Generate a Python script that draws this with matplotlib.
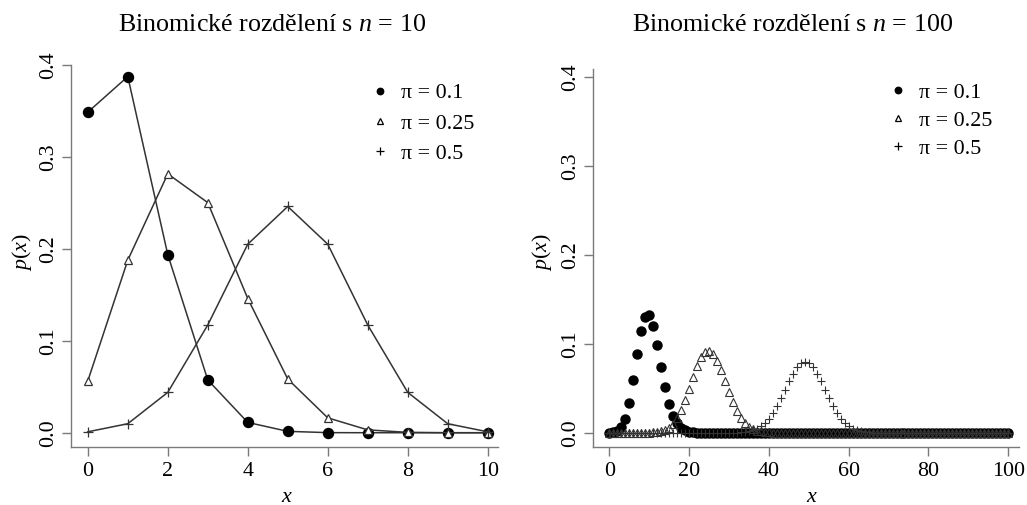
import numpy as np
import matplotlib
matplotlib.use("Agg")
import matplotlib.pyplot as plt
from matplotlib.lines import Line2D
from matplotlib.ticker import FormatStrFormatter

plt.rcParams['font.family'] = ['Liberation Serif', 'DejaVu Serif']
plt.rcParams['mathtext.fontset'] = 'custom'
plt.rcParams['mathtext.rm'] = 'Liberation Serif'
plt.rcParams['mathtext.it'] = 'Liberation Serif:italic'

# hodnoty
x10 = np.arange(0, 11)
p10_01 = [0.3487, 0.3874, 0.1937, 0.0574, 0.0112, 0.0015, 0.0001, 0.0, 0.0, 0.0, 0.0]
p10_025 = [0.0563, 0.1877, 0.2816, 0.2503, 0.1460, 0.0584, 0.0162, 0.0031, 0.0004, 0.0, 0.0]
p10_05 = [0.0010, 0.0098, 0.0439, 0.1172, 0.2051, 0.2461, 0.2051, 0.1172, 0.0439, 0.0098, 0.0010]

x100 = np.arange(0, 101)
p100_01 = [
    0.0000, 0.0003, 0.0016, 0.0059, 0.0159, 0.0339, 0.0596, 0.0889, 0.1148, 0.1304,
    0.1319, 0.1199, 0.0988, 0.0743, 0.0513, 0.0327, 0.0193, 0.0106, 0.0054, 0.0026,
    0.0012, 0.0005, 0.0002, 0.0001, 0, 0, 0, 0, 0, 0,
    0, 0, 0, 0, 0, 0, 0, 0, 0, 0,
    0, 0, 0, 0, 0, 0, 0, 0, 0, 0,
    0, 0, 0, 0, 0, 0, 0, 0, 0, 0,
    0, 0, 0, 0, 0, 0, 0, 0, 0, 0,
    0, 0, 0, 0, 0, 0, 0, 0, 0, 0,
    0, 0, 0, 0, 0, 0, 0, 0, 0, 0,
    0, 0, 0, 0, 0, 0, 0, 0, 0, 0,
    0,
]
p100_025 = [
    0, 0, 0, 0, 0, 0, 0, 0, 0, 0.0000,
    0.0001, 0.0003, 0.0006, 0.0014, 0.0030, 0.0057, 0.0100, 0.0165, 0.0254, 0.0365,
    0.0493, 0.0626, 0.0749, 0.0847, 0.0906, 0.0918, 0.0883, 0.0806, 0.0701, 0.0580,
    0.0458, 0.0344, 0.0248, 0.0170, 0.0112, 0.0070, 0.0042, 0.0024, 0.0014, 0.0007,
    0.0004, 0.0002, 0.0001, 0.0000, 0, 0, 0, 0, 0, 0,
    0, 0, 0, 0, 0, 0, 0, 0, 0, 0,
    0, 0, 0, 0, 0, 0, 0, 0, 0, 0,
    0, 0, 0, 0, 0, 0, 0, 0, 0, 0,
    0, 0, 0, 0, 0, 0, 0, 0, 0, 0,
    0, 0, 0, 0, 0, 0, 0, 0, 0, 0,
    0,
]
p100_05 = [
    0, 0, 0, 0, 0, 0, 0, 0, 0, 0,
    0, 0, 0, 0, 0, 0, 0, 0, 0, 0,
    0, 0, 0, 0, 0, 0, 0, 0, 0, 0,
    0.0000, 0.0001, 0.0002, 0.0005, 0.0009, 0.0016, 0.0027, 0.0045, 0.0071, 0.0108,
    0.0159, 0.0223, 0.0301, 0.0390, 0.0485, 0.0580, 0.0666, 0.0735, 0.0780, 0.0796,
    0.0780, 0.0735, 0.0666, 0.0580, 0.0485, 0.0390, 0.0301, 0.0223, 0.0159, 0.0108,
    0.0071, 0.0045, 0.0027, 0.0016, 0.0009, 0.0005, 0.0002, 0.0001, 0.0000, 0,
    0, 0, 0, 0, 0, 0, 0, 0, 0, 0,
    0, 0, 0, 0, 0, 0, 0, 0, 0, 0,
    0, 0, 0, 0, 0, 0, 0, 0, 0, 0,
    0,
]

labels = ['π = 0.1', 'π = 0.25', 'π = 0.5']
titles = [r'Binomické rozdělení s $n$ = 10', r'Binomické rozdělení s $n$ = 100']

W, H = 1027, 505
fig = plt.figure(figsize=(W / 100, H / 100), dpi=100)

axis_col = '#7a7a7a'
line_col = '#333333'
fs = 15.8


def style_axes(ax):
    for s in ['top', 'right']:
        ax.spines[s].set_visible(False)
    for s in ['left', 'bottom']:
        ax.spines[s].set_color(axis_col)
        ax.spines[s].set_linewidth(1.0)
    ax.tick_params(direction='out', length=6.2, width=1.0, color=axis_col,
                   labelsize=fs, labelcolor='black')
    ax.tick_params(axis='x', pad=4.5)
    ax.tick_params(axis='y', pad=3)
    ax.set_yticks([0.0, 0.1, 0.2, 0.3, 0.4])
    ax.yaxis.set_major_formatter(FormatStrFormatter('%.1f'))
    for t in ax.get_yticklabels():
        t.set_rotation(90)
        t.set_va('center')


def add_legend(ax, x0, y0, spacing):
    handles = [
        Line2D([], [], marker='o', color='black', linestyle='none', markersize=4.6),
        Line2D([], [], marker='^', color='black', markerfacecolor='none',
               linestyle='none', markersize=4.8, markeredgewidth=0.9),
        Line2D([], [], marker='+', color='black', linestyle='none', markersize=5.8,
               markeredgewidth=0.9),
    ]
    ax.legend(handles, labels, loc='upper left', bbox_to_anchor=(x0, y0),
              frameon=False, fontsize=fs, borderpad=0, borderaxespad=0,
              handlelength=0.8, handletextpad=0.55, labelspacing=spacing)


# levý panel, n = 10
ax1 = fig.add_axes([71 / W, 1 - 446.7 / H, 426.7 / W, 381.7 / H])
ax1.plot(x10, p10_01, color=line_col, lw=1.1, marker='o', markersize=7.2,
         markerfacecolor='black', markeredgecolor='black')
ax1.plot(x10, p10_025, color=line_col, lw=1.1, marker='^', markersize=6.2,
         markerfacecolor='white', markeredgecolor='#333333', markeredgewidth=0.9)
ax1.plot(x10, p10_05, color=line_col, lw=1.1, marker='+', markersize=7.0,
         markeredgecolor='#333333', markeredgewidth=0.9)
ax1.set_xlim(-0.42, 10.25)
ax1.set_ylim(-0.0152, 0.4)
ax1.set_xticks([0, 2, 4, 6, 8, 10])
style_axes(ax1)
add_legend(ax1, 0.703, 0.953, 0.45)

# pravý panel, n = 100
ax2 = fig.add_axes([593.3 / W, 1 - 446.7 / H, 425.7 / W, 377.7 / H])
ax2.plot(x100, p100_01, linestyle='none', marker='o', markersize=6.5,
         markerfacecolor='black', markeredgecolor='black')
ax2.plot(x100, p100_025, linestyle='none', marker='^', markersize=5.8,
         markerfacecolor='none', markeredgecolor='#333333', markeredgewidth=0.8)
ax2.plot(x100, p100_05, linestyle='none', marker='+', markersize=5.8,
         markeredgecolor='#333333', markeredgewidth=0.8)
ax2.set_xlim(-4.0, 102.7)
ax2.set_ylim(-0.0157, 0.409)
ax2.set_xticks([0, 20, 40, 60, 80, 100])
style_axes(ax2)
add_legend(ax2, 0.695, 0.965, 0.36)

# popisky
fig.text(271.7 / W, 1 - 25 / H, titles[0], ha='center', va='center', fontsize=18.7)
fig.text(793 / W, 1 - 25 / H, titles[1], ha='center', va='center', fontsize=18.7)
for xc in [287 / W, 811.7 / W]:
    fig.text(xc, 1 - 497 / H, r'$x$', ha='center', va='center', fontsize=fs)
for xc in [21.5 / W, 541.7 / W]:
    fig.text(xc, 1 - 252 / H, r'$p(x)$', ha='center', va='center', fontsize=fs,
             rotation=90)

fig.savefig('out.png', dpi=100, facecolor='white')
